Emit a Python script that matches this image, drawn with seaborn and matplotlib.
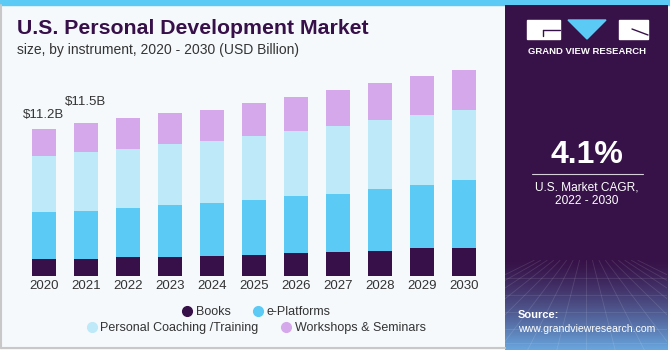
import numpy as np
import pandas as pd
import matplotlib
matplotlib.use("Agg")
import matplotlib.pyplot as plt
import seaborn as sns
from matplotlib.patches import Rectangle, Polygon
from matplotlib.lines import Line2D

# ---------------- data ----------------
years = ["2020", "2021", "2022", "2023", "2024", "2025", "2026", "2027", "2028", "2029", "2030"]
books = [1.31, 1.29, 1.44, 1.44, 1.54, 1.61, 1.74, 1.84, 1.89, 2.14, 2.14]
e_platforms = [3.54, 3.64, 3.73, 3.92, 3.99, 4.14, 4.30, 4.37, 4.70, 4.75, 5.11]
coaching = [4.24, 4.45, 4.42, 4.62, 4.70, 4.85, 4.92, 5.13, 5.23, 5.33, 5.33]
workshops = [2.05, 2.20, 2.37, 2.40, 2.35, 2.52, 2.60, 2.73, 2.80, 2.91, 3.05]
series_names = ["Books", "e-Platforms", "Personal Coaching /Training", "Workshops & Seminars"]
label_years = ["2020", "2021"]
label_texts = ["$11.2B", "$11.5B"]

colors = ["#37104A", "#5BCAF5", "#BDE9F9", "#D5A8EC"]
bg = "#F5F9FC"
W, H = 670, 350

df = pd.DataFrame({"year": years, "Books": books, "e-Platforms": e_platforms,
                   "Personal Coaching /Training": coaching, "Workshops & Seminars": workshops})
cum = df[series_names].cumsum(axis=1)

sns.set_theme(style="white")
plt.rcParams["font.family"] = ["Liberation Sans", "DejaVu Sans"]

fig = plt.figure(figsize=(W / 100, H / 100), dpi=100)
fig.patch.set_facecolor(bg)


def fx(x):
    return x / W


def fy(y):
    return 1 - y / H


# top blue strip
fig.add_artist(Rectangle((0, fy(5)), 1, 5 / H, transform=fig.transFigure, color="#5BCAF5", zorder=0))
# border lines of the left panel
fig.add_artist(Line2D([fx(1), fx(1)], [fy(5), fy(348)], transform=fig.transFigure, color="#C8C8C8", lw=1.5))
fig.add_artist(Line2D([fx(1), fx(505)], [fy(348), fy(348)], transform=fig.transFigure, color="#C8C8C8", lw=1.5))

# ---------------- bar chart ----------------
base_px, top_px = 276, 60
ppu = 13.2
ylim_top = (base_px - top_px) / ppu
ax = fig.add_axes([fx(10.1), fy(base_px), fx(487.2), (base_px - top_px) / H])
ax.set_facecolor("none")
for name, col in zip(reversed(series_names), reversed(colors)):
    sns.barplot(x=df["year"], y=cum[name], color=col, width=0.57, ax=ax,
                linewidth=0, saturation=1)
ax.set_xlim(-0.8, 10.8)
ax.set_ylim(0, ylim_top)
ax.set_yticks([])
ax.set_xlabel("")
ax.set_ylabel("")
for s in ax.spines.values():
    s.set_visible(False)
ax.tick_params(axis="x", length=0, pad=3, labelsize=9.5, labelcolor="#333333")

totals = cum[series_names[-1]].values
offsets = [6, 11]
for yr, txt, off in zip(label_years, label_texts, offsets):
    i = years.index(yr)
    ax.annotate(txt, (i, totals[i]), xytext=(0, off), textcoords="offset points",
                ha="center", va="bottom", fontsize=9.5, color="#333333")

# titles
fig.text(fx(17), fy(28), "U.S. Personal Development Market", fontsize=15.3, fontweight="bold",
         color="#37104A", va="center", ha="left")
fig.text(fx(17), fy(50), "size, by instrument, 2020 - 2030 (USD Billion)", fontsize=10,
         color="#333333", va="center", ha="left")

# legends (two centered rows)
handles = [Line2D([], [], marker="o", ls="", markersize=7, markerfacecolor=c, markeredgecolor=c)
           for c in colors]
leg1 = fig.legend(handles[:2], series_names[:2], loc="center", bbox_to_anchor=(fx(255), fy(312)),
                  ncol=2, frameon=False, fontsize=9, handletextpad=0.1, columnspacing=1.6,
                  handlelength=1.2)
leg2 = fig.legend(handles[2:], series_names[2:], loc="center", bbox_to_anchor=(fx(255), fy(328)),
                  ncol=2, frameon=False, fontsize=9, handletextpad=0.1, columnspacing=1.6,
                  handlelength=1.2)
for lg in (leg1, leg2):
    for t in lg.get_texts():
        t.set_color("#333333")

# ---------------- right panel ----------------
px0, px1, py0, py1 = 505, 667, 5, 350
axr = fig.add_axes([fx(px0), fy(py1), fx(px1 - px0), (py1 - py0) / H])
n = 345
dark = np.array([0x37, 0x12, 0x48]) / 255
low = np.array([0x6A, 0xA8, 0xE0]) / 255
t = np.clip((np.arange(n) - 255) / (n - 255), 0, 1) ** 1.3
grad = dark[None, :] * (1 - t[:, None]) + low[None, :] * t[:, None]
img = np.repeat(grad[:, None, :], 10, axis=1)
axr.imshow(img, aspect="auto", extent=(0, 1, 0, 1), origin="upper")
axr.set_xlim(0, 1)
axr.set_ylim(0, 1)
axr.axis("off")

# faint grid pattern at bottom
for k in range(-8, 9):
    axr.plot([0.5 + k * 0.04, 0.5 + k * 0.18], [0.26, 0.0], color="white", alpha=0.12, lw=0.6)
for yy in [0.02, 0.06, 0.11, 0.16, 0.21]:
    axr.plot([0, 1], [yy, yy], color="white", alpha=0.10, lw=0.6)

# logo
fig.add_artist(Rectangle((fx(527), fy(39)), fx(33), 19 / H, transform=fig.transFigure,
                         color="white", zorder=3))
fig.add_artist(Rectangle((fx(619), fy(39)), fx(29), 19 / H, transform=fig.transFigure,
                         color="white", zorder=3))
fig.add_artist(Polygon([(fx(568), fy(20)), (fx(606), fy(20)), (fx(587), fy(39))],
                       transform=fig.transFigure, color="#5BCAF5", zorder=3))
fig.add_artist(Line2D([fx(543), fx(560)], [fy(30), fy(30)], transform=fig.transFigure,
                      color="#37124A", lw=1, zorder=4))
fig.add_artist(Line2D([fx(543), fx(543)], [fy(30), fy(36)], transform=fig.transFigure,
                      color="#37124A", lw=1, zorder=4))
fig.add_artist(Line2D([fx(632), fx(648)], [fy(29), fy(35)], transform=fig.transFigure,
                      color="#37124A", lw=1, zorder=4))
fig.text(fx(587), fy(51), "GRAND VIEW RESEARCH", color="white", fontsize=6.8,
         fontweight="bold", ha="center", va="center")

fig.text(fx(587), fy(155), "4.1%", color="white", fontsize=23, fontweight="bold",
         ha="center", va="center")
fig.add_artist(Line2D([fx(532), fx(643)], [fy(173.5), fy(173.5)], transform=fig.transFigure,
                      color="white", lw=0.8, alpha=0.8))
fig.text(fx(587), fy(187), "U.S. Market CAGR,", color="white", fontsize=8.6,
         ha="center", va="center")
fig.text(fx(587), fy(201), "2022 - 2030", color="white", fontsize=8.6,
         ha="center", va="center")
fig.text(fx(518), fy(315), "Source:", color="white", fontsize=8, fontweight="bold",
         ha="left", va="center")
fig.text(fx(518), fy(329), "www.grandviewresearch.com", color="white", fontsize=7.6,
         ha="left", va="center")

fig.savefig("out.png", dpi=100, facecolor=fig.get_facecolor())
